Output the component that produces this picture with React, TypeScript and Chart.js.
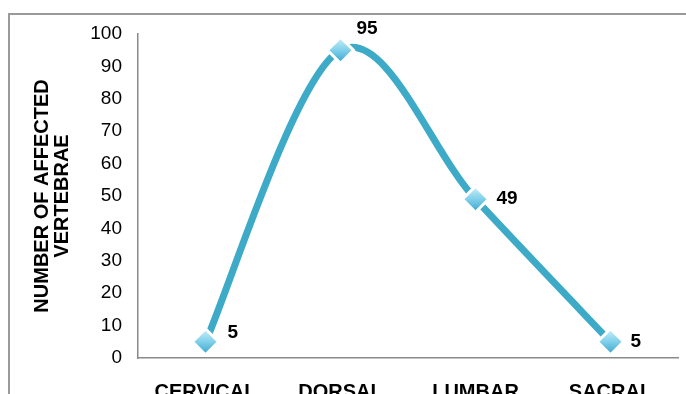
import React, { useEffect, useRef } from "react";
import { Chart, registerables } from "chart.js";

Chart.register(...registerables);

const regions = ["CERVICAL", "DORSAL", "LUMBAR", "SACRAL"];
const affectedVertebrae = [5, 95, 49, 5];
const yTicks = [0, 10, 20, 30, 40, 50, 60, 70, 80, 90, 100];

const FONT = "'Liberation Sans', Arial, sans-serif";
const LINE = "#3DAAC7";

// per-label nudge (px) relative to its marker
const labelNudge = [
  { dx: 22, dy: -9 },
  { dx: 16, dy: -21 },
  { dx: 21, dy: 0 },
  { dx: 20, dy: 0 },
];

// Catmull-Rom style smoothing: handles are 1/6 of the neighbour-to-neighbour span
const catmullRom = {
  id: "catmullRom",
  beforeDatasetDraw(chart: any, args: any) {
    const meta = args.meta;
    const line = meta.dataset;
    if (!line) return;
    line.updateControlPoints(chart.chartArea);
    const pts = meta.data;
    const n = pts.length;
    for (let i = 0; i < n; i++) {
      const prev = pts[Math.max(0, i - 1)];
      const next = pts[Math.min(n - 1, i + 1)];
      const p = pts[i];
      const tx = (next.x - prev.x) / 6;
      const ty = (next.y - prev.y) / 6;
      p.cp1x = p.x - tx;
      p.cp1y = p.y - ty;
      p.cp2x = p.x + tx;
      p.cp2y = p.y + ty;
    }
  },
};

const valueLabels = {
  id: "valueLabels",
  afterDatasetsDraw(chart: any) {
    const ctx = chart.ctx;
    const meta = chart.getDatasetMeta(0);
    ctx.save();
    ctx.font = `bold 19px ${FONT}`;
    ctx.fillStyle = "#000";
    ctx.textAlign = "left";
    ctx.textBaseline = "middle";
    meta.data.forEach((pt: any, i: number) => {
      const n = labelNudge[i] || { dx: 20, dy: 0 };
      ctx.fillText(String(affectedVertebrae[i]), pt.x + n.dx, pt.y + n.dy);
    });
    ctx.restore();
  },
};

function markerFill(c: any) {
  const chart = c.chart;
  const ys = chart.scales?.y;
  if (!ys || c.raw == null) return "#6cc6e4";
  const y = ys.getPixelForValue(c.raw);
  if (!Number.isFinite(y)) return "#6cc6e4";
  const g = chart.ctx.createLinearGradient(0, y - 13, 0, y + 13);
  g.addColorStop(0, "#cdeffa");
  g.addColorStop(0.5, "#7fd0ea");
  g.addColorStop(1, "#37a4cc");
  return g;
}

export default function App() {
  const ref = useRef<HTMLCanvasElement>(null);

  useEffect(() => {
    if (!ref.current) return;
    const chart = new Chart(ref.current, {
      type: "line",
      data: {
        labels: regions,
        datasets: [
          {
            data: affectedVertebrae,
            borderColor: LINE,
            borderWidth: 7,
            tension: 0.5,
            pointStyle: "rectRot",
            pointRadius: 13,
            pointHoverRadius: 13,
            pointBackgroundColor: markerFill,
            pointBorderColor: "#ffffff",
            pointBorderWidth: 3,
          },
        ],
      },
      options: {
        responsive: false,
        animation: false,
        events: [],
        layout: { padding: { top: 34, right: 0, left: 0, bottom: 0 } },
        plugins: { legend: { display: false }, tooltip: { enabled: false } },
        scales: {
          x: {
            offset: true,
            grid: { color: "rgba(0,0,0,0)", drawTicks: false },
            border: { display: true, color: "#8a8a8a", width: 1.5 },
            ticks: {
              padding: 22,
              color: "#000",
              font: { family: FONT, size: 20, weight: "bold" },
              maxRotation: 0,
            },
            afterFit: (s: any) => {
              s.height = 36;
            },
          },
          y: {
            min: 0,
            max: 100,
            afterBuildTicks: (s: any) => {
              s.ticks = yTicks.map((v) => ({ value: v }));
            },
            grid: { color: "rgba(0,0,0,0)", drawTicks: false },
            border: { display: true, color: "#8a8a8a", width: 1.5 },
            ticks: {
              padding: 16,
              color: "#000",
              font: { family: FONT, size: 19 },
            },
            title: {
              display: true,
              text: ["NUMBER OF AFFECTED", "VERTEBRAE"],
              color: "#000",
              font: { family: FONT, size: 20, weight: "bold", lineHeight: 1.0 },
              padding: { top: 32, bottom: 0 },
            },
            afterFit: (s: any) => {
              s.width = 138;
            },
          },
        },
      },
      plugins: [catmullRom, valueLabels],
    });
    return () => chart.destroy();
  }, []);

  return (
    <div
      style={{
        position: "fixed",
        left: 0,
        top: 0,
        width: 686,
        height: 394,
        overflow: "hidden",
        background: "#fff",
      }}
    >
      <div
        style={{
          position: "absolute",
          left: 8,
          top: 13,
          width: 720,
          height: 420,
          border: "2px solid #9a9a9a",
          boxSizing: "border-box",
        }}
      />
      <canvas
        ref={ref}
        width={694}
        height={394}
        style={{ position: "absolute", left: 0, top: 0 }}
      />
    </div>
  );
}
